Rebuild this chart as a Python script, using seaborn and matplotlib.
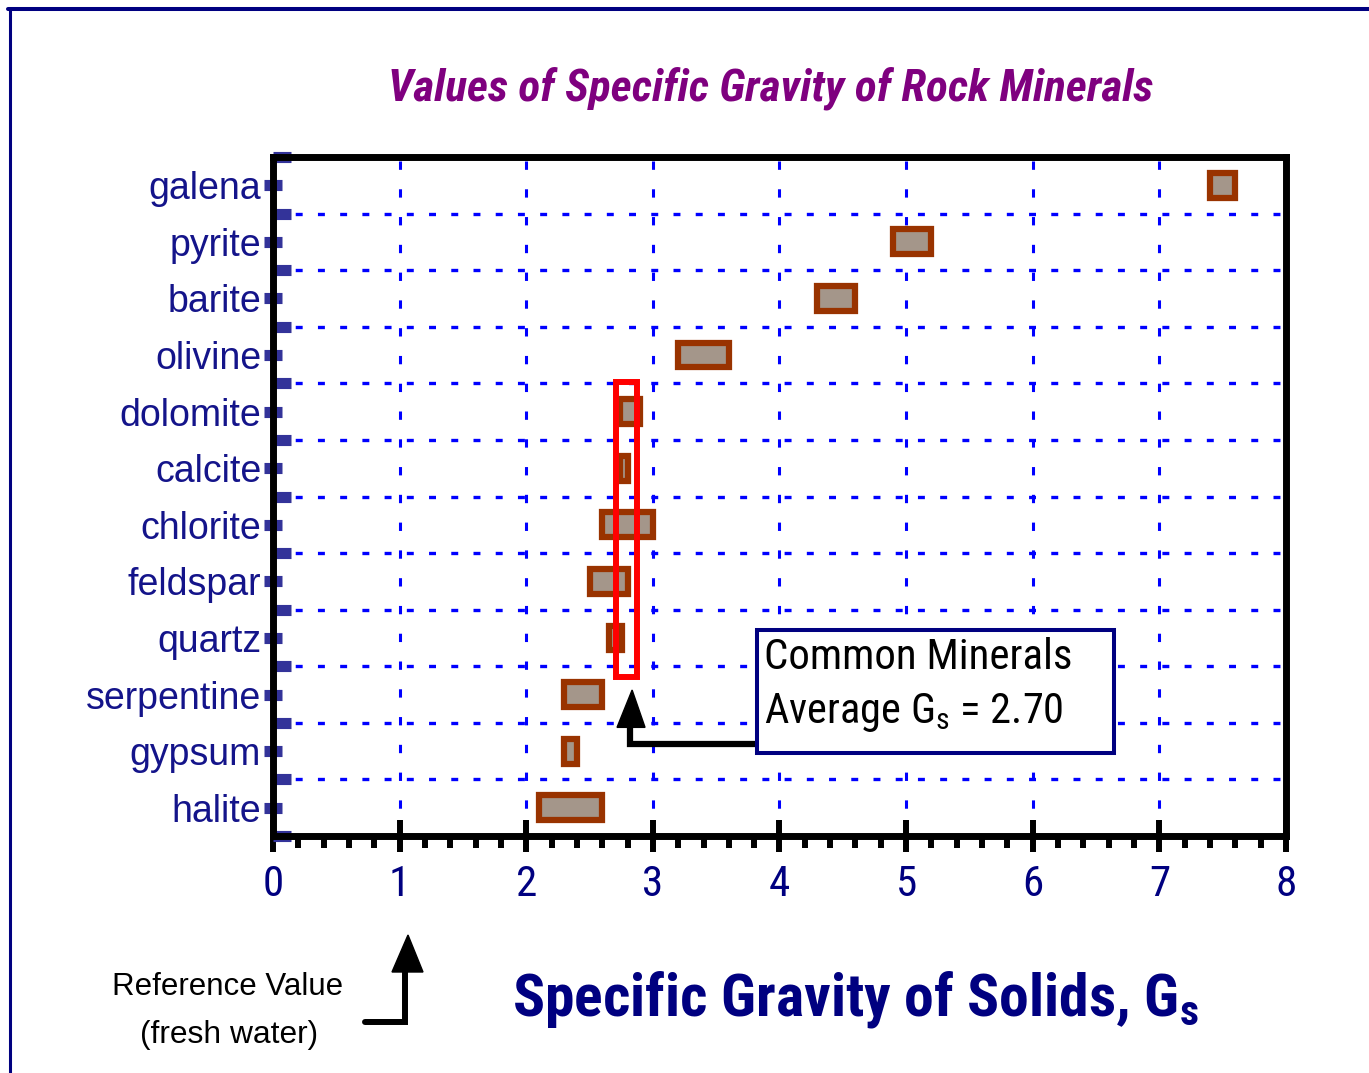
import pandas as pd
import seaborn as sns
import matplotlib.pyplot as plt
from matplotlib import font_manager
from matplotlib.patches import Rectangle, Polygon
from matplotlib.lines import Line2D

# Values (specific gravity ranges)
minerals = ['galena', 'pyrite', 'barite', 'olivine', 'dolomite', 'calcite',
            'chlorite', 'feldspar', 'quartz', 'serpentine', 'gypsum', 'halite']
gs_low  = [7.40, 4.90, 4.30, 3.20, 2.74, 2.74, 2.60, 2.50, 2.65, 2.30, 2.30, 2.10]
gs_high = [7.60, 5.20, 4.60, 3.60, 2.90, 2.80, 3.00, 2.80, 2.76, 2.60, 2.40, 2.60]
x_ticks = [0, 1, 2, 3, 4, 5, 6, 7, 8]
avg_gs = 2.70

df = pd.DataFrame({'mineral': minerals, 'low': gs_low, 'high': gs_high})
df['span'] = df['high'] - df['low']

sns.set_theme(style='white')
plt.rcParams['lines.scale_dashes'] = False
plt.rcParams['font.family'] = ['Liberation Sans', 'DejaVu Sans']

# look for a narrow / condensed face (the original uses narrow lettering)
NARROW, STRETCH = 'Liberation Sans', 'normal'
cond = {}
for f in font_manager.fontManager.ttflist:
    if str(f.stretch) in ('condensed', 'semi-condensed', 'extra-condensed'):
        cond.setdefault(f.name, str(f.stretch))
for name in ['Liberation Sans Narrow', 'Roboto Condensed', 'Open Sans Condensed',
             'Open Sans', 'Noto Sans', 'DejaVu Sans', 'Roboto', 'Lato', 'Inter']:
    if name in cond:
        NARROW, STRETCH = name, cond[name]
        break

W, H = 1369, 1073
fig = plt.figure(figsize=(W / 100, H / 100), dpi=100)
ax = fig.add_axes([273 / W, 1 - 836 / H, (1286 - 273) / W, (836 - 157) / H])

NAVY = '#000080'
TICKNAVY = '#333399'

# floating bars: span drawn from the low value
sns.barplot(data=df, x='span', y='mineral', order=minerals, orient='h',
            errorbar=None, width=0.44, color='#a89686', left=df['low'],
            edgecolor='#993300', linewidth=4.5, ax=ax, zorder=3)

ax.set_xlim(0, 8)
ax.set_ylim(len(minerals) - 0.5, -0.5)
ax.set_xlabel('')
ax.set_ylabel('')
ax.set_xticks(x_ticks)
ax.set_xticks([i / 5 for i in range(41)], minor=True)
ax.set_yticks(range(len(minerals)))
ax.set_yticklabels(minerals)
ax.set_yticks([i - 0.5 for i in range(len(minerals) + 1)], minor=True)

# grid
ax.set_axisbelow(True)
ax.grid(False)
ax.grid(which='major', axis='x', color='#0000ff', lw=2.2, linestyle=(0, (6, 14)))
ax.grid(which='minor', axis='y', color='#0000ff', lw=2.4, linestyle=(0, (5, 11)))

for s in ax.spines.values():
    s.set_visible(True)
    s.set_color('black')
    s.set_linewidth(5)

ax.tick_params(axis='x', which='major', direction='inout', length=23, width=4.3,
               color='black', labelsize=31, labelcolor=NAVY, pad=9, bottom=True)
ax.tick_params(axis='x', which='minor', direction='out', length=8.6, width=4.3,
               color='black', bottom=True)
ax.tick_params(axis='y', which='major', direction='inout', length=13, width=8,
               color=TICKNAVY, labelsize=27, labelcolor='#14148a', pad=2, left=True)
ax.tick_params(axis='y', which='minor', direction='in', length=13, width=8,
               color=TICKNAVY, left=True)
for lab in ax.get_xticklabels():
    lab.set_fontfamily([NARROW, 'DejaVu Sans'])
    lab.set_fontstretch(STRETCH)

# red box around the common minerals
ax.add_patch(Rectangle((2.709, 3.48), 0.166, 5.21, fill=False,
                       edgecolor='#ff0000', lw=4.3, zorder=5))

# arrow from the average value to the note box
ax.add_patch(Polygon([[2.717, 9.58], [2.938, 9.58], [2.836, 8.92]],
                     closed=True, color='black', zorder=6))
ax.plot([2.82, 2.82, 3.823], [9.58, 9.87, 9.87], color='black', lw=4.5,
        solid_capstyle='butt', solid_joinstyle='miter', zorder=6)
ax.add_patch(Rectangle((3.823, 7.86), 6.64 - 3.823, 10.04 - 7.86,
                       facecolor='white', edgecolor=NAVY, lw=2.9, zorder=6))
t1 = ax.text(3.88, 8.55, 'Common Minerals', fontsize=30, color='black',
             family=[NARROW, 'DejaVu Sans'], fontstretch=STRETCH,
             va='baseline', ha='left', zorder=7)
t2 = ax.text(3.88, 9.51, r'Average $\mathregular{G_s}$ = ' + f'{avg_gs:.2f}',
             fontsize=30, color='black', family=[NARROW, 'DejaVu Sans'],
             fontstretch=STRETCH, va='baseline', ha='left', zorder=7)

# figure level texts
title = fig.text(388 / W, 1 - 101 / H, 'Values of Specific Gravity of Rock Minerals',
                 fontsize=28, color='#7f007f', fontweight='bold', fontstyle='italic',
                 family=[NARROW, 'DejaVu Sans'], fontstretch=STRETCH,
                 ha='left', va='baseline')
xlab = fig.text(512 / W, 1 - 1015 / H,
                r'Specific Gravity of Solids, $\mathregular{G_s}$',
                fontsize=34, color=NAVY, fontweight='bold',
                family=[NARROW, 'DejaVu Sans'], fontstretch=STRETCH,
                ha='left', va='baseline')
r1 = fig.text(228 / W, 1 - 995 / H, 'Reference Value', fontsize=22,
              color='black', ha='center', va='baseline')
r2 = fig.text(229 / W, 1 - 1043 / H, '(fresh water)', fontsize=22,
              color='black', ha='center', va='baseline')

# scale texts so their widths match the reference
renderer = fig.canvas.get_renderer()
for txt, px in [(t1, 309), (t2, 299), (title, 764), (xlab, 688), (r1, 230), (r2, 178)]:
    w = txt.get_window_extent(renderer).width
    txt.set_fontsize(txt.get_fontsize() * px / w)

# reference-value arrow
fig.patches.append(Polygon([[392 / W, 1 - 972 / H], [423 / W, 1 - 972 / H],
                            [408 / W, 1 - 935 / H]], closed=True, color='black',
                           transform=fig.transFigure, figure=fig))
fig.lines.append(Line2D([405 / W, 405 / W, 365 / W],
                        [1 - 970 / H, 1 - 1022 / H, 1 - 1022 / H],
                        color='black', lw=4.3, solid_joinstyle='miter',
                        transform=fig.transFigure, figure=fig))

# page frame
fig.lines.append(Line2D([8 / W, 1], [1 - 9 / H, 1 - 9 / H], color=NAVY, lw=2.9,
                        transform=fig.transFigure, figure=fig))
fig.lines.append(Line2D([10 / W, 10 / W], [0, 1 - 9 / H], color=NAVY, lw=2.2,
                        transform=fig.transFigure, figure=fig))

fig.savefig('out.png', dpi=100, facecolor='white')
